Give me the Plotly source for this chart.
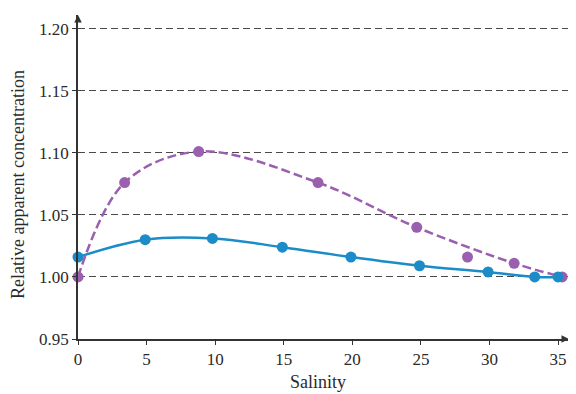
import plotly.graph_objects as go

# Data
salinity_purple = [0, 3.4, 8.8, 17.5, 24.7, 28.4, 31.8, 35.3]
conc_purple = [1.000, 1.076, 1.101, 1.076, 1.040, 1.016, 1.011, 1.000]
# trend curve for purple (drawn through the main points)
curve_purple_x = [0, 3.4, 8.8, 17.5, 24.7, 31.8, 35.3]
curve_purple_y = [1.000, 1.076, 1.101, 1.076, 1.040, 1.011, 1.000]

salinity_blue = [0, 4.9, 9.8, 14.9, 19.9, 24.9, 29.9, 33.3, 35.0]
conc_blue = [1.016, 1.030, 1.031, 1.024, 1.016, 1.009, 1.004, 1.000, 1.000]

x_ticks = [0, 5, 10, 15, 20, 25, 30, 35]
y_ticks = [0.95, 1.00, 1.05, 1.10, 1.15, 1.20]
y_tick_labels = ["0.95", "1.00", "1.05", "1.10", "1.15", "1.20"]

PURPLE = "#9b5fb0"
BLUE = "#1b8cc8"
FONT = "Liberation Serif"
TXT = "#2a2a2a"

# page body has an 8px margin: figure is sized/offset to compensate
W, H = 568, 386
L, T = 70, 7
PW, PH = 491, 324

fig = go.Figure()
fig.add_trace(go.Scatter(x=salinity_blue, y=conc_blue, mode="lines",
                         line=dict(color=BLUE, width=2.5, shape="spline", smoothing=1.0),
                         hoverinfo="skip", showlegend=False, cliponaxis=False))
fig.add_trace(go.Scatter(x=curve_purple_x, y=curve_purple_y, mode="lines",
                         line=dict(color=PURPLE, width=2.5, dash="9px,4px", shape="spline", smoothing=1.0),
                         hoverinfo="skip", showlegend=False, cliponaxis=False))
fig.add_trace(go.Scatter(x=salinity_purple, y=conc_purple, mode="markers",
                         marker=dict(color=PURPLE, size=11), showlegend=False, cliponaxis=False))
fig.add_trace(go.Scatter(x=salinity_blue, y=conc_blue, mode="markers",
                         marker=dict(color=BLUE, size=11), showlegend=False, cliponaxis=False))

fig.update_layout(
    width=W, height=H,
    margin=dict(l=L, r=W - L - PW, t=T, b=H - T - PH, autoexpand=False),
    paper_bgcolor="white", plot_bgcolor="white",
    font=dict(family=FONT, size=17, color=TXT),
    xaxis=dict(range=[0, 35.8], tickvals=x_ticks, showgrid=False, zeroline=False,
               showline=True, linecolor="#333333", linewidth=1.5,
               ticks="outside", ticklen=4, tickcolor="#333333", automargin=False,
               tickfont=dict(family=FONT, size=17, color=TXT)),
    yaxis=dict(range=[0.95, 1.211], tickvals=y_ticks, ticktext=y_tick_labels,
               showgrid=True, gridcolor="#4a4a4a", griddash="7px,4px", gridwidth=1.2,
               zeroline=False, showline=True, linecolor="#333333", linewidth=1.5,
               ticks="outside", ticklen=4, tickcolor="#333333", automargin=False,
               tickfont=dict(family=FONT, size=17, color=TXT)),
)

# axis titles (positions in screenshot pixels converted to paper coords)
def px_x(sx):
    return (sx - 8 - L) / PW

def px_y(sy):
    return 1 - (sy - 8 - T) / PH

fig.add_annotation(x=px_x(318), y=px_y(382), xref="paper", yref="paper", text="Salinity",
                   showarrow=False, font=dict(family=FONT, size=18, color=TXT),
                   xanchor="center", yanchor="middle")
fig.add_annotation(x=px_x(18), y=px_y(185), xref="paper", yref="paper",
                   text="Relative apparent concentration", textangle=-90,
                   showarrow=False, font=dict(family=FONT, size=18, color=TXT),
                   xanchor="center", yanchor="middle")

# axis arrows
fig.add_annotation(x=1.0, y=0, xref="paper", yref="paper", ax=-8, ay=0,
                   showarrow=True, arrowhead=2, arrowsize=1, arrowwidth=1.5,
                   arrowcolor="#333333", text="")
fig.add_annotation(x=0, y=1.0, xref="paper", yref="paper", ax=0, ay=8,
                   showarrow=True, arrowhead=2, arrowsize=1, arrowwidth=1.5,
                   arrowcolor="#333333", text="")

fig.write_html("out.html")
